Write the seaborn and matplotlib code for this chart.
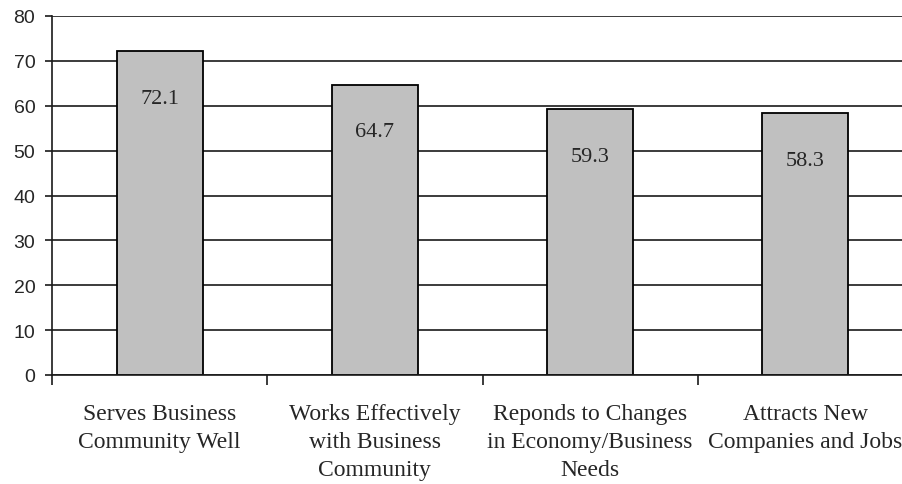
import numpy as np
import pandas as pd
import matplotlib.pyplot as plt
import seaborn as sns

# chart data
categories = ["Serves Business\nCommunity Well",
              "Works Effectively\nwith Business\nCommunity",
              "Reponds to Changes\nin Economy/Business\nNeeds",
              "Attracts New\nCompanies and Jobs"]
values = [72.1, 64.7, 59.3, 58.3]
yticks = [0, 10, 20, 30, 40, 50, 60, 70, 80]

df = pd.DataFrame({"cat": categories, "val": values})

sns.set_style("white")
plt.rcParams['font.family'] = ['Liberation Serif', 'DejaVu Serif']

fig = plt.figure(figsize=(9.02, 4.85), dpi=100)
ax = fig.add_axes([52/902, 109/485, 861/902, 359/485])

sns.barplot(data=df, x="cat", y="val", color="#c0c0c0", saturation=1,
            width=0.4, edgecolor="black", linewidth=1.3, ax=ax)

ax.set_axisbelow(True)
ax.set_ylim(0, 80)
ax.set_xlim(-0.5, 3.5)
ax.set_yticks(yticks)
ax.yaxis.grid(True, color="#1a1a1a", linewidth=1.2)
ax.set_xlabel("")
ax.set_ylabel("")

for s in ["top", "right"]:
    ax.spines[s].set_visible(False)
for s in ["left", "bottom"]:
    ax.spines[s].set_color("#1a1a1a")
    ax.spines[s].set_linewidth(1.2)

# value labels inside bars
for p, v in zip(ax.patches, values):
    ax.annotate(f"{v:.1f}", xy=(p.get_x() + p.get_width() / 2, p.get_height()),
                xytext=(0, -34), textcoords="offset points",
                ha="center", va="center", fontsize=16)

# category labels, ticks between categories
ax.set_xticks(range(len(categories)))
ax.set_xticklabels(categories, fontsize=17, linespacing=1.45)
ax.tick_params(axis="x", which="major", length=0, pad=20)
ax.set_xticks(np.arange(-0.5, len(categories), 1.0), minor=True)
ax.tick_params(axis="x", which="minor", length=7, width=1.2, direction="out",
               color="#1a1a1a", bottom=True)
ax.tick_params(axis="y", length=5, width=1.2, direction="out", color="#1a1a1a",
               left=True, pad=7)
for lab in ax.get_yticklabels():
    lab.set_fontfamily("Liberation Sans")
    lab.set_fontsize(14)

fig.savefig("out.png", dpi=100)
